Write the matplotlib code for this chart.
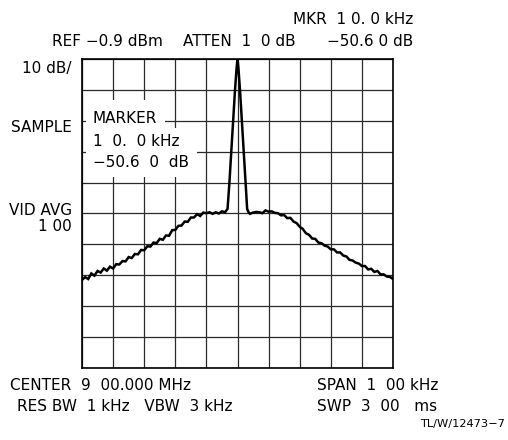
"""
Spectrum analyzer trace: 900 MHz carrier, 100 kHz span, 10 dB/div.
"""

import matplotlib
matplotlib.use('Agg')
import matplotlib.pyplot as plt
from matplotlib.patches import Rectangle

# trace, offset from center in kHz / level in dB rel. peak
freq_khz = [-50, -49, -48, -47, -46, -45, -44, -43, -42, -41, -40, -39, -38, -37,
            -36, -35, -34, -33, -32, -31, -30, -29, -28, -27, -26, -25, -24, -23,
            -22, -21, -20, -19, -18, -17, -16, -15, -14, -13, -12, -11, -10, -9,
            -8, -7, -6, -5, -4, -3.5, -3.2,
            -2.6, -2.0, -1.4, -0.8, -0.3, 0, 0.3, 0.8, 1.4, 2.0, 2.6, 3.1,
            3.5, 4, 5, 6, 7, 8, 9, 10, 11, 12, 13, 14, 15, 16, 17, 18, 19, 20,
            21, 22, 23, 24, 25, 26, 27, 28, 29, 30, 31, 32, 33, 34, 35, 36, 37,
            38, 39, 40, 41, 42, 43, 44, 45, 46, 47, 48, 49, 50]
level_db = [-71.5, -70.6, -71.2, -69.4, -70.1, -68.6, -69.1, -67.8, -68.5, -67.2,
            -67.8, -66.4, -66.5, -65.4, -65.5, -64.1, -64.4, -63.1, -63.2, -61.8,
            -61.9, -60.6, -60.7, -59.4, -59.6, -58.2, -58.5, -57.1, -57.2, -55.4,
            -55.3, -54.0, -53.9, -52.6, -52.7, -51.3, -51.3, -50.2, -50.8, -49.7,
            -49.9, -49.6, -50.1, -49.6, -50.0, -49.3, -49.6, -48.9, -48.5,
            -40, -30, -20, -10, -3, 0, -3, -10, -20, -30, -40, -48.5,
            -49.5, -50.1, -49.7, -49.5, -49.6, -49.9, -49.0, -49.4, -49.3, -49.8,
            -49.9, -50.6, -50.5, -51.5, -51.4, -52.6, -53.1, -54.3, -55.0, -56.4,
            -56.9, -58.1, -58.2, -59.4, -59.6, -60.4, -60.7, -61.6, -61.6, -62.6,
            -62.6, -63.6, -63.9, -65.0, -65.2, -65.9, -66.2, -67.0, -67.0, -68.1,
            -67.9, -68.9, -68.6, -69.7, -69.7, -70.4, -70.5, -71.2]

# instrument annotations
header_mkr = 'MKR  1 0. 0 kHz'
header_ref = 'REF \u22120.9 dBm'
header_atten = 'ATTEN  1  0 dB'
header_val = '\u221250.6 0 dB'
left_labels = ['10 dB/', 'SAMPLE', 'VID AVG', '1 00']
marker_lines = ['MARKER', '1  0.  0 kHz', '\u221250.6  0  dB']
footer_left = ['CENTER  9  00.000 MHz', 'RES BW  1 kHz   VBW  3 kHz']
footer_right = ['SPAN  1  00 kHz', 'SWP  3  00   ms']
fig_id = 'TL/W/12473\u22127'

plt.rcParams['font.family'] = ['DejaVu Sans']
fs = 11

fig = plt.figure(figsize=(5.08, 4.40), dpi=100)
ax = fig.add_axes([82 / 508, 72 / 440, 311 / 508, 309 / 440])

ax.set_xlim(-50, 50)
ax.set_ylim(-100, 0)
ax.set_xticks(range(-50, 51, 10))
ax.set_yticks(range(-100, 1, 10))
ax.grid(True, color='#2a2a2a', linewidth=0.9)
ax.tick_params(length=0, labelbottom=False, labelleft=False)
for s in ax.spines.values():
    s.set_linewidth(1.2)
ax.set_axisbelow(True)

ax.plot(freq_khz, level_db, color='black', linewidth=1.8, zorder=4,
        solid_joinstyle='miter')

# marker readout blanks out the graticule behind it
ax.add_patch(Rectangle((-48.7, -22.3), 25.4, 9.0, facecolor='white',
                       edgecolor='none', zorder=2))
ax.add_patch(Rectangle((-48.7, -38.2), 35.7, 15.9, facecolor='white',
                       edgecolor='none', zorder=2))
ax.text(-46.5, -19.3, marker_lines[0], fontsize=fs, va='center', ha='left', zorder=3)
ax.text(-46.5, -26.6, marker_lines[1], fontsize=fs, va='center', ha='left', zorder=3)
ax.text(-46.5, -33.4, marker_lines[2], fontsize=fs, va='center', ha='left', zorder=3)

fig.text(413 / 508, 1 - 20 / 440, header_mkr, fontsize=fs, ha='right', va='center')
fig.text(52 / 508, 1 - 42 / 440, header_ref, fontsize=fs, ha='left', va='center')
fig.text(183 / 508, 1 - 42 / 440, header_atten, fontsize=fs, ha='left', va='center')
fig.text(413 / 508, 1 - 42 / 440, header_val, fontsize=fs, ha='right', va='center')

fig.text(72 / 508, 1 - 69 / 440, left_labels[0], fontsize=fs, ha='right', va='center')
fig.text(72 / 508, 1 - 127 / 440, left_labels[1], fontsize=fs, ha='right', va='center')
fig.text(72 / 508, 1 - 210 / 440, left_labels[2], fontsize=fs, ha='right', va='center')
fig.text(72 / 508, 1 - 226 / 440, left_labels[3], fontsize=fs, ha='right', va='center')

fig.text(10 / 508, 1 - 385 / 440, footer_left[0], fontsize=fs, ha='left', va='center')
fig.text(17 / 508, 1 - 406 / 440, footer_left[1], fontsize=fs, ha='left', va='center')
fig.text(317 / 508, 1 - 385 / 440, footer_right[0], fontsize=fs, ha='left', va='center')
fig.text(317 / 508, 1 - 406 / 440, footer_right[1], fontsize=fs, ha='left', va='center')
fig.text(505 / 508, 1 - 424 / 440, fig_id, fontsize=8.2, ha='right', va='center')

fig.savefig('out.png', dpi=100)
